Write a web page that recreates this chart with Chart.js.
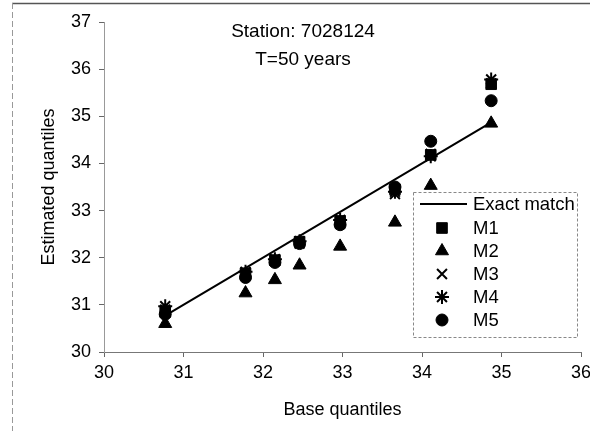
<!DOCTYPE html>
<html>
<head>
<meta charset="utf-8">
<script src="https://cdn.jsdelivr.net/npm/chart.js@4.4.1/dist/chart.umd.min.js"></script>
<style>
  html, body { margin: 0; padding: 0; background: #fff; }
  #wrap { width: 590px; height: 431px; position: relative; }
</style>
</head>
<body>
<div id="wrap"><canvas id="qq"></canvas></div>
<script>
// base vs estimated quantiles, station 7028124, T = 50 years
const baseQ = [30.77, 31.78, 32.15, 32.46, 32.97, 33.66, 34.11, 34.87];
const m1 = [30.85, 31.67, 31.95, 32.34, 32.78, 33.45, 34.18, 35.68];
const m2 = [30.60, 31.25, 31.53, 31.84, 32.24, 32.75, 33.53, 34.85];
const m3 = [30.90, 31.65, 31.93, 32.30, 32.72, 33.35, 34.20, 35.70];
const m4 = [30.97, 31.70, 31.97, 32.35, 32.80, 33.40, 34.15, 35.78];
const m5 = [30.80, 31.58, 31.90, 32.30, 32.70, 33.50, 34.47, 35.33];
const exactLine = [30.77, 34.87];
const xTicks = [30, 31, 32, 33, 34, 35, 36];
const yTicks = [30, 31, 32, 33, 34, 35, 36, 37];

const FONT = "'Liberation Sans', Arial, sans-serif";

function pts(ys) {
  return baseQ.map((x, i) => ({ x: x, y: ys[i] }));
}

function series(label, ys, style, radius) {
  return {
    label: label,
    data: pts(ys),
    showLine: false,
    pointStyle: style,
    pointRadius: radius,
    pointHoverRadius: radius,
    backgroundColor: "#000",
    borderColor: "#000",
    pointBorderWidth: style === "crossRot" || style === "star" ? 2 : 1
  };
}

const datasets = [
  {
    label: "Exact match",
    type: "line",
    data: exactLine.map(v => ({ x: v, y: v })),
    borderColor: "#000",
    borderWidth: 2,
    pointRadius: 0,
    fill: false
  },
  series("M1", m1, "rect", 7.5),
  series("M2", m2, "triangle", 7.5),
  series("M3", m3, "crossRot", 7),
  series("M4", m4, "star", 7),
  series("M5", m5, "circle", 6)
];

// frame, heading text and the boxed legend are drawn straight onto the canvas
const extras = {
  id: "extras",
  beforeDraw(chart) {
    const c = chart.ctx;
    c.save();
    c.strokeStyle = "#555";
    c.lineWidth = 1.5;
    c.beginPath();
    c.moveTo(12, 3.5);
    c.lineTo(590, 3.5);
    c.stroke();
    c.strokeStyle = "#999";
    c.lineWidth = 1;
    c.setLineDash([6, 3]);
    c.beginPath();
    c.moveTo(12.5, 3);
    c.lineTo(12.5, 431);
    c.stroke();
    c.restore();
  },
  afterDraw(chart) {
    const c = chart.ctx;
    c.save();
    c.fillStyle = "#000";
    c.font = "19px " + FONT;
    c.textAlign = "center";
    c.textBaseline = "middle";
    c.fillText("Station: 7028124", 303, 32);
    c.fillText("T=50 years", 303, 60);

    // legend box
    const bx = 413, by = 192, bw = 164, bh = 145;
    c.fillStyle = "#fff";
    c.fillRect(bx, by, bw, bh);
    c.strokeStyle = "#888";
    c.lineWidth = 1;
    c.setLineDash([3, 2]);
    c.strokeRect(bx + 0.5, by + 0.5, bw, bh);
    c.setLineDash([]);

    const rowY = [204, 228, 251, 274, 297, 320];
    c.font = "18.5px " + FONT;
    c.textAlign = "left";
    chart.data.datasets.forEach((ds, i) => {
      const y = rowY[i];
      if (i === 0) {
        c.strokeStyle = "#000";
        c.lineWidth = 2;
        c.beginPath();
        c.moveTo(420, y);
        c.lineTo(467, y);
        c.stroke();
      } else {
        c.fillStyle = "#000";
        c.strokeStyle = "#000";
        c.lineWidth = ds.pointBorderWidth;
        Chart.helpers.drawPoint(c, {
          pointStyle: ds.pointStyle,
          radius: ds.pointRadius,
          borderWidth: ds.pointBorderWidth,
          rotation: 0
        }, 442, y);
      }
      c.fillStyle = "#000";
      c.fillText(ds.label, 473, y + 1);
    });
    c.restore();
  }
};

new Chart(document.getElementById("qq"), {
  type: "scatter",
  data: { datasets: datasets },
  plugins: [extras],
  options: {
    responsive: true,
    maintainAspectRatio: false,
    animation: false,
    layout: { padding: { left: 38, right: 9, top: 22, bottom: 10 } },
    plugins: {
      legend: { display: false },
      tooltip: { enabled: false }
    },
    scales: {
      x: {
        type: "linear",
        min: 30,
        max: 36,
        afterBuildTicks: s => { s.ticks = xTicks.map(v => ({ value: v })); },
        // let the "36" label run to the canvas edge
        afterFit: s => { s.height = 69; s.paddingRight = 0; s.paddingLeft = 0; },
        grid: { drawOnChartArea: false, drawTicks: true, tickLength: 5, color: "#666" },
        border: { color: "#777", width: 1, dash: [8, 2] },
        ticks: { color: "#000", font: { family: FONT, size: 18 }, padding: 5, maxRotation: 0 },
        title: {
          display: true,
          text: "Base quantiles",
          color: "#000",
          font: { family: FONT, size: 18 },
          padding: { top: 9, bottom: 0 }
        }
      },
      y: {
        type: "linear",
        min: 30,
        max: 37,
        afterBuildTicks: s => { s.ticks = yTicks.map(v => ({ value: v })); },
        afterFit: s => { s.width = 66; },
        grid: { drawOnChartArea: false, drawTicks: true, tickLength: 5, color: "#666" },
        border: { color: "#999", width: 1, dash: [3, 2] },
        ticks: { color: "#000", font: { family: FONT, size: 18 }, padding: 8 },
        title: {
          display: true,
          text: "Estimated quantiles",
          color: "#000",
          font: { family: FONT, size: 18 },
          padding: { top: 0, bottom: 12 }
        }
      }
    }
  }
});
</script>
</body>
</html>
